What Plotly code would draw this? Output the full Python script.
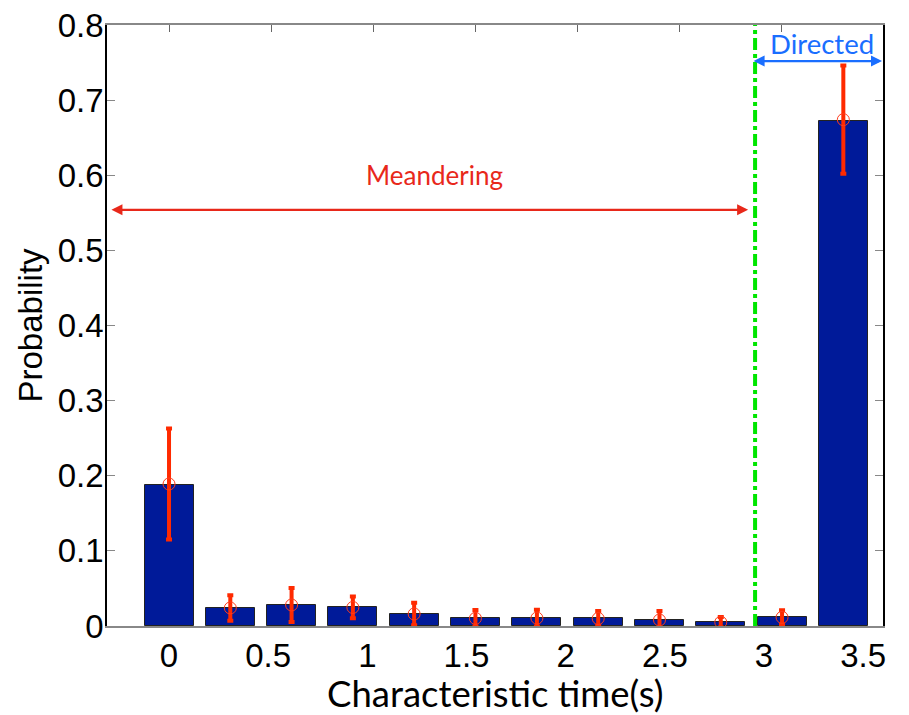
import plotly.graph_objects as go

# Data
bin_centers = [0.0, 0.309, 0.618, 0.927, 1.236, 1.545, 1.855, 2.164, 2.473, 2.782, 3.091, 3.4]
probability = [0.188, 0.0235, 0.028, 0.0247, 0.016, 0.0102, 0.0102, 0.0102, 0.008, 0.005, 0.0116, 0.672]
prob_mean = [0.189, 0.024, 0.028, 0.0247, 0.016, 0.0102, 0.0105, 0.010, 0.008, 0.005, 0.0115, 0.674]
prob_err = [0.074, 0.017, 0.0226, 0.0145, 0.015, 0.011, 0.011, 0.010, 0.012, 0.007, 0.0095, 0.072]

x_tick_vals = [0, 0.5, 1, 1.5, 2, 2.5, 3, 3.5]
x_tick_text = ["0", "0.5", "1", "1.5", "2", "2.5", "3", "3.5"]
y_tick_vals = [0, 0.1, 0.2, 0.3, 0.4, 0.5, 0.6, 0.7, 0.8]
y_tick_text = ["0", "0.1", "0.2", "0.3", "0.4", "0.5", "0.6", "0.7", "0.8"]
top_tick_vals = [0, 0.5144, 1.0288, 1.5432, 2.0576, 2.572, 3.0864]

threshold_x = 2.955
meander_range = [-0.298, 2.92]
meander_y = 0.554
directed_range = [2.94, 3.595]
directed_y = 0.752

x_range = [-0.3127, 3.60]
y_range = [0, 0.8]

fig = go.Figure()

fig.add_trace(go.Bar(
    x=bin_centers, y=probability, width=0.247,
    marker=dict(color="#001A99", line=dict(color="#222222", width=1)),
    showlegend=False,
))

fig.add_trace(go.Scatter(
    x=bin_centers, y=prob_mean, mode="markers",
    marker=dict(symbol="circle-open", size=12, color="#FF3A1A", line=dict(width=1)),
    error_y=dict(type="data", array=prob_err, color="#FF2A00", thickness=4, width=3),
    showlegend=False,
))

# green threshold line
fig.add_trace(go.Scatter(
    x=[threshold_x, threshold_x], y=y_range, mode="lines",
    line=dict(color="#00E600", width=4, dash="dashdot"),
    showlegend=False,
))

# dummy trace on top axis for ticks
fig.add_trace(go.Scatter(x=[x_range[0]], y=[0], xaxis="x2", mode="markers",
                         marker=dict(opacity=0), showlegend=False, hoverinfo="skip"))

fig.add_annotation(x=meander_range[1], y=meander_y, ax=meander_range[0], ay=meander_y,
                   xref="x", yref="y", axref="x", ayref="y", text="",
                   showarrow=True, arrowhead=2, startarrowhead=2, arrowside="end+start",
                   arrowsize=1, arrowwidth=2.2, arrowcolor="#E8281A")
fig.add_annotation(x=directed_range[1], y=directed_y, ax=directed_range[0], ay=directed_y,
                   xref="x", yref="y", axref="x", ayref="y", text="",
                   showarrow=True, arrowhead=2, startarrowhead=2, arrowside="end+start",
                   arrowsize=1, arrowwidth=2.2, arrowcolor="#1A6EFF")
fig.add_annotation(x=1.341, y=0.600, xref="x", yref="y", text="Meandering", showarrow=False,
                   font=dict(family="Lato", size=26, color="#E8281A"))
fig.add_annotation(x=3.293, y=0.776, xref="x", yref="y", text="Directed", showarrow=False,
                   font=dict(family="Lato", size=27.5, color="#1A6EFF"))

# axis titles
fig.add_annotation(x=0.5, y=-0.112, xref="paper", yref="paper", text="Characteristic time(s)",
                   showarrow=False, xanchor="center", yanchor="middle",
                   font=dict(family="Lato", size=36.5, color="black"))
fig.add_annotation(x=-0.0992, y=0.5, xref="paper", yref="paper", text="Probability",
                   showarrow=False, xanchor="center", yanchor="middle", textangle=-90,
                   font=dict(family="Liberation Sans", size=33, color="black"))

fig.update_layout(
    width=901, height=707,
    margin=dict(l=99, r=26, t=17, b=89),
    paper_bgcolor="white", plot_bgcolor="white",
    bargap=0,
    xaxis=dict(range=x_range, tickvals=x_tick_vals, ticktext=x_tick_text, automargin=False,
               showgrid=False, zeroline=False, showline=True, linecolor="#888888",
               linewidth=1.5, mirror=True, ticks="", ticklabelstandoff=0,
               ticklabeloverflow="allow",
               tickfont=dict(family="Liberation Sans", size=33, color="black")),
    xaxis2=dict(range=x_range, overlaying="x", side="top", tickvals=top_tick_vals,
                showticklabels=False, ticks="inside", ticklen=7, tickcolor="#666666",
                showgrid=False, zeroline=False, showline=False, automargin=False),
    yaxis=dict(range=y_range, tickvals=y_tick_vals, ticktext=y_tick_text, automargin=False,
               showgrid=False, zeroline=False, showline=True, linecolor="black",
               linewidth=1.5, mirror="ticks", ticks="inside", ticklen=8, tickcolor="#888888",
               ticklabelstandoff=-5, ticklabeloverflow="allow",
               tickfont=dict(family="Liberation Sans", size=33, color="black")),
)

fig.write_html("out.html")
